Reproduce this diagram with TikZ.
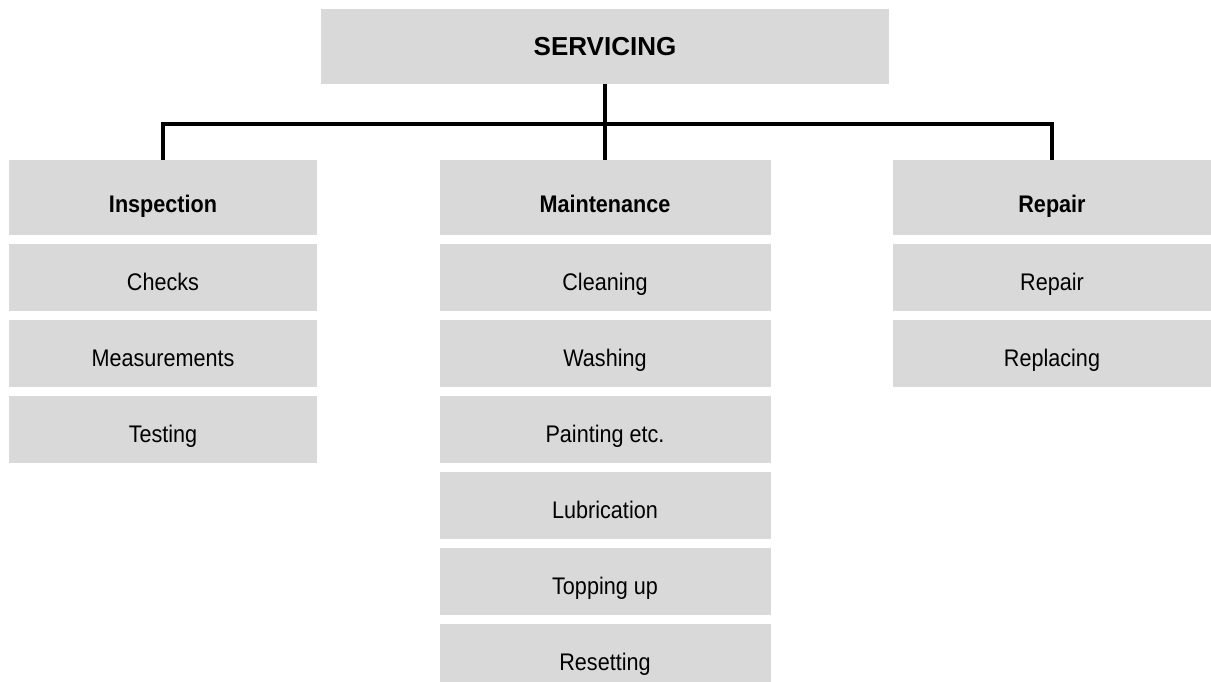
\documentclass[tikz,border=0pt]{standalone}
\usepackage{fontspec}
\setmainfont{Liberation Sans}[FakeStretch=0.9]
\newfontfamily\topfont{Liberation Sans}
\definecolor{boxgray}{HTML}{D9D9D9}
\begin{document}
\begin{tikzpicture}[x=1pt,y=-1pt,
  box/.style={fill=boxgray,draw=none,inner sep=0pt,outer sep=0pt,align=center,
    font=\fontsize{24}{28}\selectfont,text height=25pt,text depth=0pt,minimum height=67pt},
  head/.style={box,font=\fontsize{24}{28}\selectfont\bfseries,text height=29pt,minimum height=75pt},
  top/.style={box,font=\topfont\fontsize{26}{30}\selectfont\bfseries,text height=19pt,minimum height=75pt,minimum width=568pt},
  colA/.style={minimum width=308pt},
  colB/.style={minimum width=331pt},
  colC/.style={minimum width=318pt},
  conn/.style={line width=3.6pt,draw=black,line join=miter}]
\useasboundingbox (0,0) rectangle (1211,682);
\clip (0,0) rectangle (1211,682);
\node[top] (serv) at (605,46.5) {SERVICING};
% headers
\node[head,colA] (insp) at (163,197.5) {Inspection};
\node[head,colB] (maint) at (605,197.5) {Maintenance};
\node[head,colC] (rep) at (1052,197.5) {Repair};
% inspection items
\node[box,colA] (checks) at (163,277.5) {Checks};
\node[box,colA] (meas) at (163,353.5) {Measurements};
\node[box,colA] (test) at (163,429.5) {Testing};
% maintenance items
\node[box,colB] (clean) at (605,277.5) {Cleaning};
\node[box,colB] (wash) at (605,353.5) {Washing};
\node[box,colB] (paint) at (605,429.5) {Painting etc.};
\node[box,colB] (lub) at (605,505.5) {Lubrication};
\node[box,colB] (topup) at (605,581.5) {Topping up};
\node[box,colB] (reset) at (605,657.5) {Resetting};
% repair items
\node[box,colC] (repair) at (1052,277.5) {Repair};
\node[box,colC] (replace) at (1052,353.5) {Replacing};
% connectors
\coordinate (bus) at (605,124);
\draw[conn] (serv.south) -- (bus);
\draw[conn] (insp.north) |- (bus) -| (rep.north);
\draw[conn] (bus) -- (maint.north);
\end{tikzpicture}
\end{document}
